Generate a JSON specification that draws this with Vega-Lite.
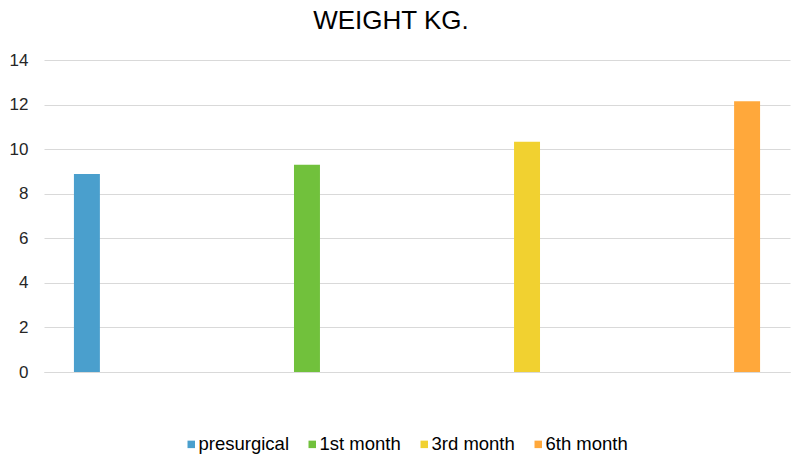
{
  "$schema": "https://vega.github.io/schema/vega-lite/v6.json",
  "width": 746,
  "height": 312,
  "autosize": {"type": "none"},
  "padding": {"left": 44, "top": 60, "right": 10, "bottom": 89},
  "background": "white",
  "config": {
    "font": "Liberation Sans",
    "view": {"stroke": null},
    "axis": {"labelFont": "Liberation Sans", "labelColor": "#262626"}
  },
  "title": {
    "text": "WEIGHT KG.",
    "fontSize": 26,
    "fontWeight": "normal",
    "color": "#000000",
    "anchor": "middle",
    "dx": -26,
    "offset": 17
  },
  "data": {
    "values": [
      {"period": "presurgical", "weight": 8.89},
      {"period": "1st month", "weight": 9.3},
      {"period": "3rd month", "weight": 10.33},
      {"period": "6th month", "weight": 12.15}
    ]
  },
  "mark": {"type": "bar"},
  "encoding": {
    "x": {
      "field": "period",
      "type": "nominal",
      "sort": null,
      "scale": {"paddingInner": 0.882, "paddingOuter": 0.136},
      "axis": {
        "title": null,
        "labels": false,
        "ticks": false,
        "domainColor": "#d9d9d9",
        "domainWidth": 1
      }
    },
    "y": {
      "field": "weight",
      "type": "quantitative",
      "scale": {"domain": [0, 14]},
      "axis": {
        "title": null,
        "values": [0, 2, 4, 6, 8, 10, 12, 14],
        "domain": false,
        "ticks": false,
        "labelFontSize": 17,
        "labelPadding": 16,
        "gridColor": "#d9d9d9",
        "gridWidth": 1
      }
    },
    "color": {
      "field": "period",
      "type": "nominal",
      "sort": null,
      "scale": {
        "domain": ["presurgical", "1st month", "3rd month", "6th month"],
        "range": ["#4a9fcd", "#71c13c", "#f1d130", "#ffa83b"]
      },
      "legend": {
        "title": null,
        "orient": "none",
        "direction": "horizontal",
        "legendX": 138,
        "legendY": 375,
        "symbolType": "square",
        "symbolSize": 56,
        "symbolOffset": 0,
        "labelFontSize": 18.5,
        "labelColor": "#000000",
        "labelOffset": -2,
        "columnPadding": 14
      }
    }
  }
}
